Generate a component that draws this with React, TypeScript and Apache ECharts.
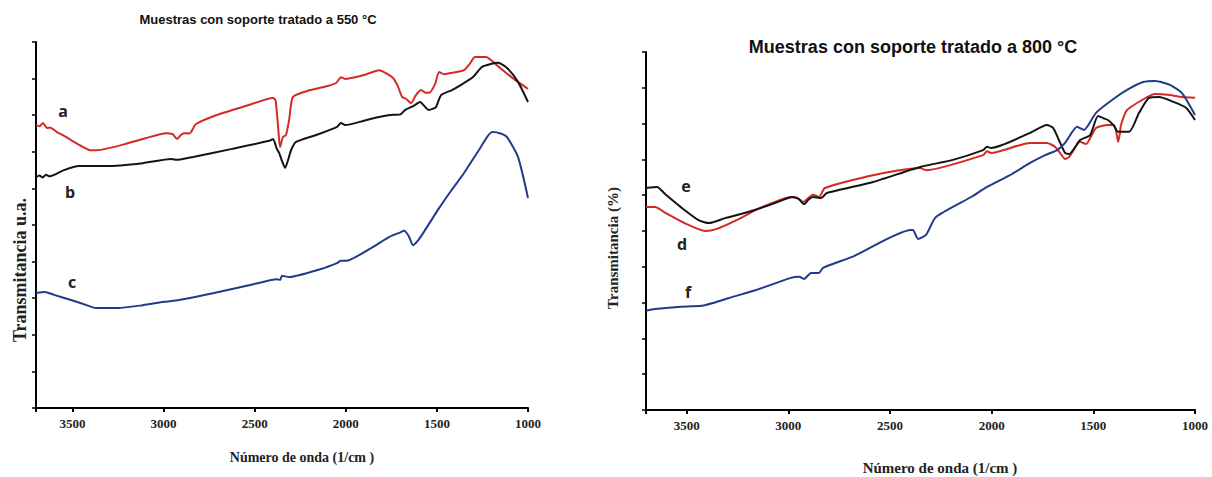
import React, { useEffect, useRef } from "react";
import * as echarts from "echarts";

// ---- Left panel (550 °C) ----
const waveA = [3700, 3680, 3662, 3640, 3620, 3585, 3550, 3508, 3460, 3409, 3370, 3300, 3212, 3100, 2987, 2950, 2926, 2905, 2888, 2860, 2849, 2822, 2700, 2550, 2399, 2385, 2370, 2361, 2345, 2328, 2310, 2290, 2200, 2100, 2053, 2026, 2004, 1900, 1817, 1780, 1741, 1715, 1691, 1670, 1642, 1615, 1587, 1565, 1543, 1510, 1488, 1460, 1428, 1390, 1351, 1320, 1291, 1230, 1190, 1153, 1080, 1000];
const transA = [7.73, 7.7, 7.79, 7.65, 7.66, 7.54, 7.45, 7.32, 7.18, 7.05, 7.04, 7.1, 7.21, 7.37, 7.51, 7.48, 7.35, 7.46, 7.51, 7.5, 7.54, 7.76, 8.02, 8.25, 8.47, 8.4, 7.6, 7.13, 7.4, 7.46, 7.9, 8.5, 8.68, 8.8, 8.88, 9.04, 8.99, 9.1, 9.23, 9.15, 9.02, 8.8, 8.5, 8.45, 8.33, 8.55, 8.69, 8.62, 8.61, 8.85, 9.18, 9.12, 9.15, 9.18, 9.23, 9.4, 9.59, 9.59, 9.45, 9.29, 9.0, 8.72];

const waveB = [3700, 3680, 3665, 3645, 3625, 3601, 3546, 3464, 3310, 3113, 2959, 2926, 2838, 2624, 2420, 2399, 2380, 2366, 2350, 2333, 2315, 2300, 2273, 2150, 2048, 2026, 2004, 1900, 1817, 1741, 1724, 1700, 1675, 1630, 1592, 1560, 1543, 1520, 1505, 1477, 1420, 1367, 1300, 1252, 1164, 1115, 1055, 1000];
const transB = [6.31, 6.35, 6.3, 6.37, 6.33, 6.37, 6.5, 6.61, 6.61, 6.69, 6.8, 6.78, 6.86, 7.08, 7.3, 7.35, 7.1, 6.97, 6.75, 6.56, 6.8, 7.05, 7.27, 7.48, 7.68, 7.79, 7.73, 7.85, 7.95, 8.01, 8.01, 8.02, 8.14, 8.25, 8.36, 8.2, 8.14, 8.18, 8.22, 8.55, 8.68, 8.83, 9.05, 9.32, 9.43, 9.29, 8.91, 8.36];

const waveC = [3700, 3651, 3600, 3508, 3440, 3371, 3250, 3113, 2997, 2915, 2723, 2525, 2377, 2360, 2350, 2311, 2136, 2048, 2026, 1999, 1861, 1763, 1700, 1680, 1655, 1631, 1600, 1565, 1488, 1420, 1351, 1269, 1197, 1150, 1115, 1055, 1000];
const transC = [3.14, 3.17, 3.09, 2.95, 2.84, 2.73, 2.73, 2.81, 2.9, 2.95, 3.14, 3.36, 3.52, 3.5, 3.61, 3.58, 3.8, 3.96, 4.02, 4.02, 4.37, 4.67, 4.8, 4.84, 4.7, 4.45, 4.6, 4.86, 5.46, 5.95, 6.42, 7.05, 7.54, 7.5, 7.4, 6.86, 5.74];

// ---- Right panel (800 °C) ----
const waveD = [3700, 3656, 3602, 3503, 3410, 3351, 3252, 3159, 3041, 2987, 2950, 2928, 2879, 2849, 2820, 2583, 2352, 2323, 2042, 2023, 2003, 1811, 1728, 1688, 1660, 1639, 1619, 1565, 1536, 1487, 1428, 1398, 1385, 1378, 1370, 1364, 1334, 1236, 1196, 1123, 1064, 1000];
const transD = [5.67, 5.67, 5.5, 5.2, 5.0, 5.06, 5.31, 5.59, 5.87, 5.95, 5.9, 5.81, 6.01, 5.95, 6.2, 6.56, 6.76, 6.7, 7.12, 7.23, 7.18, 7.46, 7.46, 7.35, 7.15, 7.01, 7.07, 7.49, 7.43, 7.88, 7.96, 7.96, 7.7, 7.49, 7.7, 7.96, 8.38, 8.74, 8.83, 8.8, 8.74, 8.72];

const waveE = [3700, 3646, 3602, 3523, 3444, 3390, 3311, 3198, 3080, 2977, 2950, 2923, 2900, 2879, 2839, 2810, 2583, 2352, 2195, 2042, 2023, 2003, 1811, 1728, 1698, 1670, 1639, 1619, 1565, 1516, 1477, 1450, 1428, 1400, 1378, 1324, 1275, 1226, 1177, 1103, 1044, 1000];
const transE = [6.2, 6.23, 6.01, 5.64, 5.31, 5.22, 5.36, 5.53, 5.75, 5.95, 5.9, 5.75, 5.88, 5.95, 5.92, 6.06, 6.37, 6.79, 6.98, 7.26, 7.35, 7.32, 7.74, 7.96, 7.88, 7.55, 7.18, 7.15, 7.54, 7.68, 8.21, 8.15, 8.1, 7.95, 7.77, 7.77, 8.3, 8.72, 8.74, 8.6, 8.44, 8.1];

const waveF = [3700, 3656, 3543, 3425, 3370, 3292, 3159, 2987, 2947, 2923, 2888, 2849, 2829, 2677, 2397, 2387, 2362, 2323, 2274, 2101, 2023, 1910, 1811, 1737, 1678, 1639, 1580, 1546, 1487, 1408, 1334, 1255, 1196, 1123, 1064, 1000];
const transF = [2.77, 2.82, 2.88, 2.91, 2.99, 3.13, 3.35, 3.69, 3.72, 3.66, 3.83, 3.83, 3.97, 4.3, 5.03, 5.03, 4.78, 4.89, 5.39, 5.95, 6.23, 6.56, 6.9, 7.12, 7.26, 7.46, 7.91, 7.82, 8.3, 8.66, 8.94, 9.16, 9.19, 9.08, 8.85, 8.24];

const xTickLabels = ["1000", "1500", "2000", "2500", "3000", "3500"];
const titleLeft = "Muestras con soporte tratado a 550 °C";
const titleRight = "Muestras con soporte tratado a 800 °C";
const xName = "Número de onda (1/cm )";
const yNameLeft = "Transmitancia u.a.";
const yNameRight = "Transmitancia (%)";

const RED = "#d42a26";
const BLACK = "#141414";
const BLUE = "#1f3b8a";

const pair = (w: number[], t: number[]) => w.map((x, i) => [x, t[i]]);

export default function App() {
  const ref = useRef<HTMLDivElement>(null);
  useEffect(() => {
    if (!ref.current) return;
    const chart = echarts.init(ref.current, null, { renderer: "svg" });
    const xAxisBase = (gridIndex: number) => ({
      type: "value",
      gridIndex,
      min: 1000,
      max: 3700,
      interval: 500,
      inverse: true,
      axisLine: { show: true, onZero: false, lineStyle: { color: "#000", width: 2 } },
      axisTick: { show: true, length: 4, lineStyle: { color: "#000", width: 2 } },
      axisLabel: {
        show: true,
        margin: 9,
        fontFamily: "Liberation Serif",
        fontWeight: "bold",
        fontSize: 13,
        color: "#222",
        formatter: (v: number) => (xTickLabels.includes(String(v)) ? String(v) : ""),
      },
      splitLine: { show: false },
    });
    const yAxisBase = (gridIndex: number) => ({
      type: "value",
      gridIndex,
      min: 0,
      max: 10,
      interval: 1,
      axisLine: { show: true, onZero: false, lineStyle: { color: "#000", width: 2 } },
      axisTick: { show: true, length: 4, lineStyle: { color: "#000", width: 1.5 } },
      axisLabel: { show: false },
      splitLine: { show: false },
    });
    const lineSeries = (name: string, data: number[][], color: string, idx: number) => ({
      type: "line",
      name,
      xAxisIndex: idx,
      yAxisIndex: idx,
      data,
      showSymbol: false,
      symbol: "none",
      smooth: 0.2,
      lineStyle: { color, width: 2 },
      itemStyle: { color },
    });
    const lbl = (text: string, x: number, y: number) => ({
      type: "text",
      x,
      y,
      style: {
        text,
        fontFamily: "Open Sans",
        fontWeight: "bold",
        fontSize: 16,
        fill: "#222",
        textAlign: "center",
        textVerticalAlign: "middle",
      },
    });
    chart.setOption({
      animation: false,
      backgroundColor: "#fff",
      grid: [
        { left: 36, right: 1212 - 528, top: 42, height: 366 },
        { left: 646, right: 1212 - 1195, top: 52, height: 358 },
      ],
      xAxis: [xAxisBase(0), xAxisBase(1)],
      yAxis: [yAxisBase(0), yAxisBase(1)],
      series: [
        lineSeries("a", pair(waveA, transA), RED, 0),
        lineSeries("b", pair(waveB, transB), BLACK, 0),
        lineSeries("c", pair(waveC, transC), BLUE, 0),
        lineSeries("d", pair(waveD, transD), RED, 1),
        lineSeries("e", pair(waveE, transE), BLACK, 1),
        lineSeries("f", pair(waveF, transF), BLUE, 1),
      ],
      graphic: [
        {
          type: "text",
          x: 258,
          y: 19,
          style: { text: titleLeft, fontFamily: "Liberation Sans", fontWeight: "bold", fontSize: 13, fill: "#111", textAlign: "center", textVerticalAlign: "middle" },
        },
        {
          type: "text",
          x: 913,
          y: 47,
          style: { text: titleRight, fontFamily: "Liberation Sans", fontWeight: "bold", fontSize: 18, fill: "#111", textAlign: "center", textVerticalAlign: "middle" },
        },
        {
          type: "text",
          x: 302,
          y: 457,
          style: { text: xName, fontFamily: "Liberation Serif", fontWeight: "bold", fontSize: 14, fill: "#222", textAlign: "center", textVerticalAlign: "middle" },
        },
        {
          type: "text",
          x: 940,
          y: 468,
          style: { text: xName, fontFamily: "Liberation Serif", fontWeight: "bold", fontSize: 15, fill: "#222", textAlign: "center", textVerticalAlign: "middle" },
        },
        {
          type: "text",
          x: 20,
          y: 270,
          rotation: Math.PI / 2,
          style: { text: yNameLeft, fontFamily: "Liberation Serif", fontWeight: "bold", fontSize: 18, fill: "#222", textAlign: "center", textVerticalAlign: "middle" },
        },
        {
          type: "text",
          x: 613,
          y: 248,
          rotation: Math.PI / 2,
          style: { text: yNameRight, fontFamily: "Liberation Serif", fontWeight: "bold", fontSize: 15, fill: "#222", textAlign: "center", textVerticalAlign: "middle" },
        },
        lbl("a", 63, 111),
        lbl("b", 70, 192),
        lbl("c", 72, 282),
        lbl("e", 686, 186),
        lbl("d", 682, 244),
        lbl("f", 688, 292),
      ],
    });
    return () => chart.dispose();
  }, []);
  return <div ref={ref} style={{ position: "fixed", left: 0, top: 0, width: 1212, height: 477 }} />;
}
